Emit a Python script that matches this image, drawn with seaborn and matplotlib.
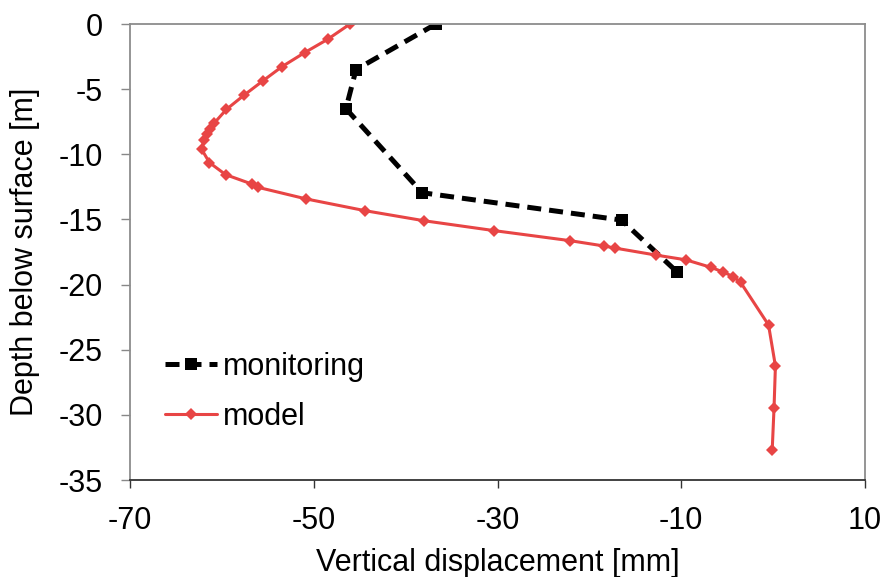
import pandas as pd
import numpy as np
import seaborn as sns
import matplotlib.pyplot as plt

# Monitoring data
mon_disp = [-36.7, -45.4, -46.5, -38.2, -16.5, -10.5]
mon_depth = [0.0, -3.5, -6.5, -12.95, -15.05, -19.0]

# Model data
mod_disp = [-46.05, -48.5, -51.0, -53.45, -55.55, -57.6, -59.5, -60.85, -61.3,
            -61.65, -61.95, -62.2, -61.35, -59.6, -56.75, -56.1, -50.8, -44.4,
            -38.0, -30.35, -22.1, -18.4, -17.2, -12.8, -9.5, -6.8, -5.45,
            -4.35, -3.55, -0.5, 0.25, 0.1, -0.1]
mod_depth = [0.0, -1.18, -2.2, -3.27, -4.37, -5.47, -6.55, -7.62, -8.06,
             -8.44, -8.9, -9.62, -10.64, -11.56, -12.28, -12.53, -13.43, -14.33,
             -15.1, -15.86, -16.63, -17.04, -17.2, -17.73, -18.1, -18.67, -19.03,
             -19.39, -19.82, -23.1, -26.25, -29.45, -32.7]

x_ticks = [-70, -50, -30, -10, 10]
y_ticks = [0, -5, -10, -15, -20, -25, -30, -35]

mon = pd.DataFrame({'disp': mon_disp, 'depth': mon_depth})
mod = pd.DataFrame({'disp': mod_disp, 'depth': mod_depth})

sns.set_style('white')
plt.rcParams['font.family'] = ['Liberation Sans', 'DejaVu Sans']
plt.rcParams['axes.unicode_minus'] = False
plt.rcParams['text.color'] = 'black'
plt.rcParams['axes.labelcolor'] = 'black'

fig = plt.figure(figsize=(8.85, 5.77), dpi=100)
ax = fig.add_axes([0.1469, 0.1681, 0.8305, 0.7903])

sns.lineplot(data=mon, x='disp', y='depth', sort=False, estimator=None, ax=ax,
             color='black', linewidth=3.6, marker='s', markersize=8,
             markeredgewidth=0, label='monitoring')
ax.lines[-1].set_dashes((2.8, 1.6))

sns.lineplot(data=mod, x='disp', y='depth', sort=False, estimator=None, ax=ax,
             color='#e84545', linewidth=2.2, marker='D', markersize=6.5,
             markeredgewidth=0, label='model')

ax.set_xlim(-70, 10)
ax.set_ylim(-35, 0)
ax.set_xticks(x_ticks)
ax.set_yticks(y_ticks)
ax.tick_params(axis='both', labelsize=22, labelcolor='black')
ax.tick_params(axis='y', direction='out', length=6.5, width=1, color='#888888', pad=13, left=True)
ax.tick_params(axis='x', direction='out', length=6, width=1, color='#333333', pad=13, bottom=True)

for side in ['left', 'top', 'right']:
    ax.spines[side].set_color('#8c8c8c')
    ax.spines[side].set_linewidth(1.3)
ax.spines['bottom'].set_color('#333333')
ax.spines['bottom'].set_linewidth(1.3)

ax.set_xlabel('Vertical displacement [mm]', fontsize=22, labelpad=8)
ax.set_ylabel('Depth below surface [m]', fontsize=22, labelpad=13)

ax.legend(loc='lower left', bbox_to_anchor=(0.01, 0.045), frameon=False, fontsize=22,
          handlelength=1.7, handletextpad=0.2, labelspacing=0.65)

plt.savefig('out.png', dpi=100)
